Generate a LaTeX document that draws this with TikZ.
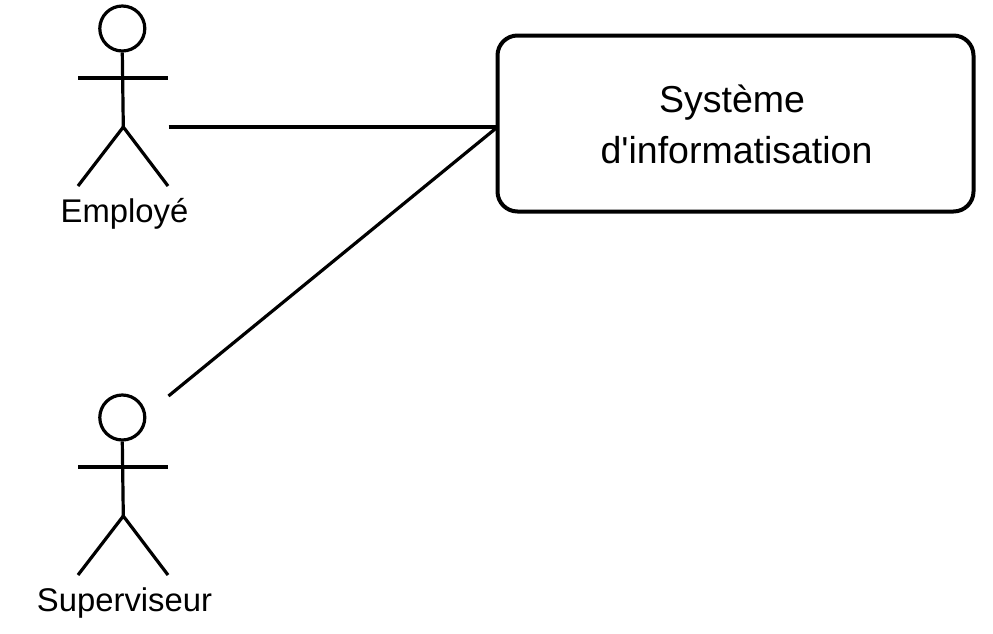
\documentclass[tikz,border=0pt]{standalone}
\usepackage{fontspec}
\setmainfont{Liberation Sans}
\tikzset{
  ln/.style={line width=3.2pt,black},
  headc/.style={draw=black,line width=3.2pt,circle,minimum size=45pt,inner sep=0pt},
  lbl/.style={font=\fontsize{32.8pt}{38pt}\selectfont,inner sep=0pt,anchor=base},
  big/.style={font=\fontsize{37.5pt}{44pt}\selectfont,inner sep=0pt,anchor=base},
  sys/.style={draw=black,line width=4pt,rounded corners=20pt,minimum width=476pt,minimum height=176pt,inner sep=0pt,fill=white},
}
\begin{document}
\begin{tikzpicture}[x=1pt,y=-1pt]
\useasboundingbox (0,0) rectangle (993,633);
% Employe
\node[headc] (h1) at (122.3,28.5) {};
\coordinate (hipA) at (123.3,127);
\coordinate (armLA) at (78,78);
\coordinate (armRA) at (168,78);
\coordinate (legLA) at (78,186);
\coordinate (legRA) at (168,186);
\draw[ln] (h1.south) -- (hipA);
\draw[ln] (armLA) -- (armRA);
\draw[ln,line join=round] (legLA) -- (hipA) -- (legRA);
\node[lbl] (t1) at (124.5,222) {Employé};
% Superviseur
\node[headc] (h2) at (122.3,417.5) {};
\coordinate (hipB) at (123.3,516);
\coordinate (armLB) at (78,467);
\coordinate (armRB) at (168,467);
\coordinate (legLB) at (78,575);
\coordinate (legRB) at (168,575);
\draw[ln] (h2.south) -- (hipB);
\draw[ln] (armLB) -- (armRB);
\draw[ln,line join=round] (legLB) -- (hipB) -- (legRB);
\node[lbl] (t2) at (124.5,611) {Superviseur};
% System
\node[sys] (s) at (735.5,123.5) {};
\node[big] (t3) at (732,112) {Système};
\node[big] (t4) at (736.5,163) {d\textquotesingle informatisation};
\coordinate (e1) at (168.5,127);
\coordinate (e2) at (168.5,396);
\coordinate (p) at (497.5,127);
\draw[ln] (e1) -- (p);
\draw[ln] (e2) -- (p);
\end{tikzpicture}
\end{document}
